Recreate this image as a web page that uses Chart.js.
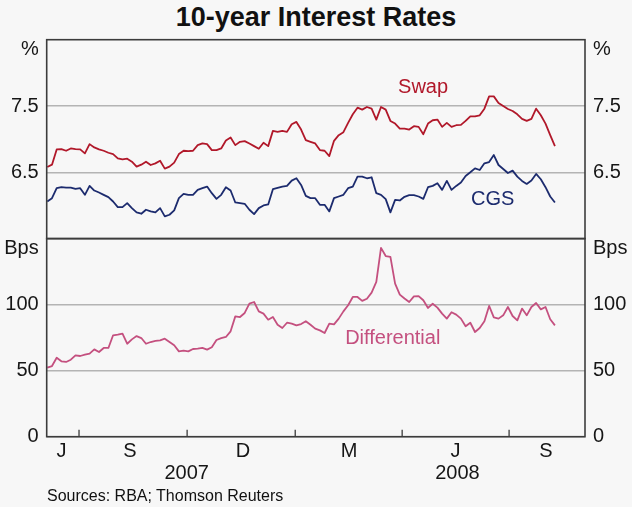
<!DOCTYPE html>
<html><head><meta charset="utf-8">
<script src="https://cdn.jsdelivr.net/npm/chart.js@4.4.0/dist/chart.umd.min.js"></script>
<style>
html,body{margin:0;padding:0;background:#f7f7f7;}
#wrap{position:relative;width:632px;height:507px;overflow:hidden;font-family:"Liberation Sans",Arial,sans-serif;color:#111;}
canvas{position:absolute;left:0;top:0;}
#title{position:absolute;left:0;top:2px;width:632px;text-align:center;font-weight:bold;font-size:27px;line-height:30px;}
#src{position:absolute;left:47px;top:486px;font-size:16px;line-height:20px;}
</style></head>
<body><div id="wrap">
<div id="title">10-year Interest Rates</div>
<canvas id="c1" width="632" height="507" style="width:632px;height:507px"></canvas>
<canvas id="c2" width="632" height="507" style="width:632px;height:507px"></canvas>
<div id="src">Sources: RBA; Thomson Reuters</div>
</div>
<script>
// ---- data (x = days since 1 July 2007) ----
const days = [-27,-23,-19,-15,-11,-7,-3,1,5,9,13,17,21,25,29,33,37,41,45,49,53,57,61,65,69,73,77,81,85,89,93,97,101,105,109,113,117,121,125,129,133,137,141,145,149,153,157,161,165,169,173,177,181,185,189,193,197,201,205,209,213,217,221,225,229,233,237,241,245,249,253,257,261,265,269,273,277,281,285,289,293,297,301,305,309,313,317,321,325,329,333,337,341,345,349,353,357,361,365,369,373,377,381,385,389,393,397,401,405];
const swap = [6.58,6.615,6.845,6.85,6.825,6.86,6.85,6.845,6.785,6.925,6.875,6.845,6.825,6.795,6.775,6.71,6.695,6.705,6.66,6.585,6.615,6.66,6.61,6.635,6.675,6.555,6.585,6.645,6.775,6.825,6.82,6.825,6.91,6.935,6.925,6.835,6.835,6.86,6.98,7.025,6.91,6.96,6.97,6.935,6.895,6.855,6.945,6.895,7.125,7.11,7.125,7.11,7.225,7.26,7.145,6.985,6.96,6.935,6.835,6.825,6.745,6.975,7.06,7.105,7.245,7.375,7.475,7.445,7.485,7.46,7.295,7.485,7.445,7.275,7.235,7.16,7.16,7.145,7.195,7.185,7.075,7.235,7.285,7.295,7.185,7.245,7.185,7.21,7.215,7.275,7.345,7.345,7.36,7.46,7.645,7.645,7.545,7.5,7.455,7.425,7.375,7.305,7.275,7.305,7.46,7.36,7.235,7.06,6.895];
const cgs = [6.06,6.11,6.26,6.275,6.27,6.27,6.25,6.26,6.16,6.295,6.225,6.195,6.16,6.125,6.06,5.975,5.975,6.035,5.96,5.895,5.875,5.935,5.91,5.895,5.96,5.835,5.86,5.925,6.11,6.175,6.16,6.16,6.235,6.26,6.285,6.185,6.1,6.16,6.275,6.225,6.045,6.035,6.025,5.935,5.87,5.96,6.0,6.015,6.245,6.265,6.285,6.295,6.375,6.41,6.31,6.145,6.11,6.11,6.01,6.01,5.91,6.11,6.135,6.16,6.26,6.285,6.435,6.435,6.41,6.425,6.185,6.16,6.095,5.895,6.085,6.075,6.13,6.155,6.155,6.135,6.1,6.275,6.295,6.335,6.235,6.37,6.235,6.295,6.345,6.445,6.5,6.56,6.535,6.635,6.655,6.76,6.61,6.55,6.49,6.525,6.435,6.37,6.325,6.375,6.475,6.395,6.275,6.135,6.045];
const differential = [52.3,53.5,59.8,57.1,56.6,58.3,61.6,61.1,62.1,62.9,66.1,64.1,67.2,67.2,76.8,77.3,78,70.4,73.7,76.2,74.7,70.4,71.7,72.5,73,74.2,71.7,69.2,64.6,65.1,64.6,66.4,66.7,67.2,65.9,67.7,73.2,74.7,75.5,79.8,91.1,90.6,93.7,100.7,102,94.9,93.2,88.6,90.6,84.8,82.3,86.3,85.6,84.3,85.3,87.4,84.8,81.8,80.5,78.5,85.6,85.1,89.4,94.9,99.5,105.8,105.8,102.8,104.5,109.1,117.2,143,136.8,136.1,115.9,107.6,104.6,102,106.3,106.5,103.3,97.5,100.7,97.7,93.2,89.4,94.2,92.4,89.4,83.6,86.3,79.3,82.3,87.4,99,90.4,89.4,91.9,98.2,91.4,88.1,97,91.9,98.2,101.2,96.4,98.2,88.9,84.3];

const topTicks = [6.5, 7.5];
const bottomTicks = [0, 50, 100];
const quarterTicks = [0, 92, 184, 275, 366];
const monthLabels = ['J','S','D','M','J','S'];
const monthPos = [-15, 43.4, 139.6, 229.8, 320.4, 397.4];
const yearLabels = ['2007','2008'];
const yearPos = [91.6, 322];
const seriesLabels = [
  {text:'Swap', x:292.8, y:7.78, panel:'top'},
  {text:'CGS', x:352, y:6.084, panel:'top'},
  {text:'Differential', x:267, y:74.5, panel:'bottom'}
];

// ---- style ----
const FONT = '"Liberation Sans", Arial, sans-serif';
const RED = '#b1182a', NAVY = '#1c2b6e', PINK = '#c4507f';
const FRAME = '#3c3c3c', GRID = '#b4b4b4', TXT = '#161616';
const X_MIN = -27.5, X_MAX = 430.6;
const LEFT_W = 46.7, RIGHT_W = 632 - 585;
const TOP = 39.7, MID = 238.6, BOT = 436.7;

Chart.defaults.font.family = FONT;
Chart.defaults.color = TXT;

function pts(vals){ return days.map((d,i)=>({x:d, y:vals[i]})); }

function yAxis(pos, min, max, tickVals, fmt, grid){
  return {
    position: pos, min: min, max: max,
    afterFit: s => { s.width = pos === 'left' ? LEFT_W : RIGHT_W; },
    afterBuildTicks: s => { s.ticks = tickVals.map(v => ({value: v})); },
    ticks: {font:{size:20}, padding:8, color:TXT, callback: v => fmt(v)},
    grid: grid ? {color: GRID, lineWidth: 1.5, drawTicks: false} : {display:false, drawTicks:false},
    border: {display:false}
  };
}

const panelPlugin = {
  id: 'panel',
  afterDraw(chart, args, opts){
    const ctx = chart.ctx, a = chart.chartArea, xs = chart.scales.x, ys = chart.scales.y;
    ctx.save();
    ctx.strokeStyle = FRAME; ctx.lineWidth = 1.6;
    ctx.strokeRect(a.left, a.top, a.right - a.left, a.bottom - a.top);
    ctx.font = '20px ' + FONT;
    ctx.fillStyle = TXT;
    ctx.textBaseline = 'middle';
    ctx.textAlign = 'right';
    ctx.fillText(opts.unit, a.left - 8, a.top + 9.5);
    ctx.textAlign = 'left';
    ctx.fillText(opts.unit, a.right + 8, a.top + 9.5);
    ctx.textAlign = 'center';
    seriesLabels.filter(l => l.panel === opts.panel).forEach(l => {
      ctx.fillStyle = l.text === 'Swap' ? RED : (l.text === 'CGS' ? NAVY : PINK);
      ctx.fillText(l.text, xs.getPixelForValue(l.x), ys.getPixelForValue(l.y));
    });
    if (opts.panel === 'bottom') {
      ctx.strokeStyle = FRAME; ctx.lineWidth = 1.3;
      quarterTicks.forEach(q => {
        const px = xs.getPixelForValue(q);
        ctx.beginPath(); ctx.moveTo(px, a.bottom); ctx.lineTo(px, a.bottom - 7); ctx.stroke();
      });
      ctx.fillStyle = TXT;
      monthLabels.forEach((m,i) => ctx.fillText(m, xs.getPixelForValue(monthPos[i]), a.bottom + 15));
      yearLabels.forEach((y,i) => ctx.fillText(y, xs.getPixelForValue(yearPos[i]), a.bottom + 36.5));
    }
    ctx.restore();
  }
};

const common = {
  responsive:false, animation:false, devicePixelRatio:1,
  plugins:{legend:{display:false}, tooltip:{enabled:false}},
  elements:{point:{radius:0}, line:{tension:0, borderJoinStyle:'round'}}
};

new Chart(document.getElementById('c1'), {
  type:'line',
  data:{datasets:[
    {label:'Swap', data:pts(swap), borderColor:RED, borderWidth:1.8, pointRadius:0},
    {label:'CGS', data:pts(cgs), borderColor:NAVY, borderWidth:1.8, pointRadius:0}
  ]},
  options:Object.assign({}, common, {
    layout:{padding:{left:0, right:0, top:TOP, bottom:507 - MID}},
    plugins:Object.assign({}, common.plugins, {panel:{unit:'%', panel:'top'}}),
    scales:{
      x:{type:'linear', min:X_MIN, max:X_MAX, display:false},
      y:yAxis('left', 5.5, 8.5, topTicks, v => v.toFixed(1), true),
      y2:yAxis('right', 5.5, 8.5, topTicks, v => v.toFixed(1), false)
    }
  }),
  plugins:[panelPlugin]
});

new Chart(document.getElementById('c2'), {
  type:'line',
  data:{datasets:[
    {label:'Differential', data:pts(differential), borderColor:PINK, borderWidth:1.8, pointRadius:0}
  ]},
  options:Object.assign({}, common, {
    layout:{padding:{left:0, right:0, top:MID, bottom:507 - BOT}},
    plugins:Object.assign({}, common.plugins, {panel:{unit:'Bps', panel:'bottom'}}),
    scales:{
      x:{type:'linear', min:X_MIN, max:X_MAX, display:false},
      y:yAxis('left', 0, 150, bottomTicks, v => String(v), true),
      y2:yAxis('right', 0, 150, bottomTicks, v => String(v), false)
    }
  }),
  plugins:[panelPlugin]
});
</script>
</body></html>
